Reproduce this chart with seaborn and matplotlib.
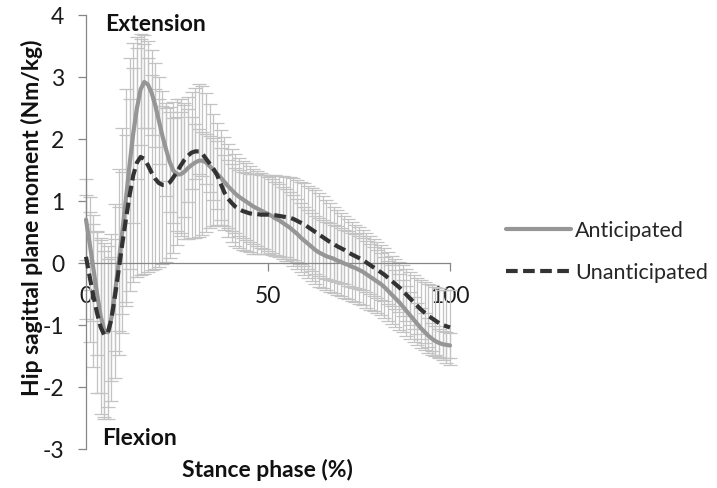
import matplotlib
matplotlib.use("Agg")
import matplotlib.pyplot as plt
import seaborn as sns
import numpy as np
import pandas as pd

# ---------------- data ----------------
stance = list(range(0, 101))

anticipated = [
    0.70, 0.32, -0.08, -0.48, -0.85, -1.08, -1.12, -0.88, -0.45, 0.02,
    0.52, 1.05, 1.60, 2.10, 2.50, 2.80, 2.92, 2.88, 2.75, 2.55,
    2.30, 2.05, 1.83, 1.63, 1.49, 1.43, 1.43, 1.47, 1.53, 1.58,
    1.62, 1.65, 1.65, 1.62, 1.56, 1.50, 1.44, 1.38, 1.31, 1.24,
    1.18, 1.12, 1.07, 1.03, 0.99, 0.95, 0.91, 0.88, 0.85, 0.82,
    0.79, 0.76, 0.72, 0.69, 0.65, 0.61, 0.57, 0.52, 0.47, 0.41,
    0.36, 0.31, 0.26, 0.21, 0.17, 0.14, 0.11, 0.09, 0.07, 0.04,
    0.02, -0.01, -0.03, -0.06, -0.08, -0.11, -0.14, -0.18, -0.22, -0.26,
    -0.30, -0.34, -0.39, -0.45, -0.51, -0.57, -0.63, -0.70, -0.77, -0.84,
    -0.91, -0.98, -1.05, -1.11, -1.17, -1.22, -1.26, -1.29, -1.31, -1.32,
    -1.33,
]

unanticipated = [
    0.10, -0.22, -0.52, -0.80, -1.03, -1.16, -1.13, -0.90, -0.52, -0.10,
    0.32, 0.72, 1.10, 1.42, 1.62, 1.71, 1.68, 1.58, 1.46, 1.36,
    1.29, 1.26, 1.26, 1.30, 1.38, 1.47, 1.57, 1.66, 1.73, 1.78,
    1.80, 1.80, 1.76, 1.68, 1.60, 1.52, 1.42, 1.28, 1.14, 1.04,
    0.97, 0.91, 0.87, 0.84, 0.82, 0.80, 0.79, 0.79, 0.78, 0.78,
    0.78, 0.77, 0.77, 0.76, 0.75, 0.74, 0.73, 0.71, 0.68, 0.65,
    0.62, 0.58, 0.54, 0.50, 0.46, 0.42, 0.38, 0.34, 0.31, 0.27,
    0.24, 0.21, 0.17, 0.14, 0.11, 0.08, 0.05, 0.01, -0.03, -0.07,
    -0.11, -0.15, -0.19, -0.24, -0.29, -0.34, -0.39, -0.45, -0.51, -0.57,
    -0.63, -0.69, -0.75, -0.80, -0.85, -0.89, -0.93, -0.97, -1.00, -1.02,
    -1.04,
]

anticipated_sd = [
    0.65, 0.75, 0.85, 1.00, 1.25, 1.40, 1.40, 1.35, 1.40, 1.50,
    1.65, 1.75, 1.70, 1.45, 1.15, 0.90, 0.75, 0.70, 0.68, 0.68,
    0.70, 0.72, 0.75, 0.80, 0.85, 0.92, 1.00, 1.08, 1.14, 1.18,
    1.21, 1.23, 1.20, 1.12, 1.00, 0.90, 0.82, 0.76, 0.72, 0.68,
    0.66, 0.64, 0.63, 0.62, 0.62, 0.61, 0.61, 0.60, 0.60, 0.60,
    0.60, 0.60, 0.59, 0.59, 0.58, 0.58, 0.57, 0.57, 0.56, 0.56,
    0.55, 0.55, 0.55, 0.55, 0.55, 0.55, 0.55, 0.55, 0.55, 0.55,
    0.55, 0.55, 0.55, 0.55, 0.55, 0.55, 0.54, 0.54, 0.53, 0.52,
    0.51, 0.50, 0.49, 0.48, 0.47, 0.46, 0.45, 0.42, 0.40, 0.38,
    0.36, 0.34, 0.32, 0.30, 0.28, 0.26, 0.24, 0.23, 0.22, 0.21,
    0.20,
]

unanticipated_sd = [
    1.00, 1.05, 1.15, 1.30, 1.40, 1.35, 1.20, 1.00, 0.90, 1.00,
    1.15, 1.35, 1.55, 1.72, 1.85, 1.90, 1.85, 1.72, 1.58, 1.45,
    1.35, 1.28, 1.24, 1.22, 1.22, 1.18, 1.08, 0.92, 0.75, 0.58,
    0.45, 0.36, 0.36, 0.40, 0.45, 0.50, 0.55, 0.58, 0.60, 0.62,
    0.63, 0.63, 0.63, 0.63, 0.63, 0.63, 0.64, 0.64, 0.64, 0.64,
    0.64, 0.64, 0.65, 0.65, 0.65, 0.65, 0.66, 0.66, 0.66, 0.66,
    0.67, 0.67, 0.67, 0.67, 0.67, 0.66, 0.64, 0.62, 0.60, 0.58,
    0.56, 0.55, 0.54, 0.52, 0.51, 0.50, 0.49, 0.48, 0.47, 0.46,
    0.45, 0.44, 0.43, 0.42, 0.41, 0.40, 0.40, 0.41, 0.42, 0.43,
    0.44, 0.45, 0.47, 0.49, 0.51, 0.53, 0.55, 0.56, 0.57, 0.59,
    0.60,
]

series_names = ["Anticipated", "Unanticipated"]
y_ticks = [-3, -2, -1, 0, 1, 2, 3, 4]
x_ticks = [0, 50, 100]

# ---------------- style ----------------
sns.set_theme(style="white")
plt.rcParams["font.family"] = ["Lato", "DejaVu Sans"]
plt.rcParams["axes.unicode_minus"] = False

FS = 16.5
FSB = 16.5
FSL = 15.5
W, H = 717, 488
fig = plt.figure(figsize=(W / 100, H / 100), dpi=100)
ax = fig.add_axes([86 / W, 1 - 449 / H, 364 / W, 434 / H])
ax.set_facecolor("white")

df = pd.DataFrame({
    "stance": stance * 2,
    "moment": anticipated + unanticipated,
    "sd": anticipated_sd + unanticipated_sd,
    "condition": [series_names[0]] * len(stance) + [series_names[1]] * len(stance),
})

# error bars (SD) - light grey
for name in series_names:
    sub = df[df["condition"] == name]
    eb = ax.errorbar(sub["stance"], sub["moment"], yerr=sub["sd"], fmt="none",
                     ecolor="#c3c3c3", elinewidth=0.9, capsize=5.0,
                     capthick=0.9, zorder=1)
    for part in eb.get_children():
        part.set_clip_on(False)

sns.lineplot(data=df, x="stance", y="moment", hue="condition", style="condition",
             palette={"Anticipated": "#969696", "Unanticipated": "#333333"},
             dashes={"Anticipated": "", "Unanticipated": (2.8, 1.3)},
             linewidth=3.0, ax=ax, legend=True, zorder=3, errorbar=None,
             sort=False)
for ln in ax.get_lines():
    ln.set_clip_on(False)

# axes styling
ax.set_xlim(0, 100)
ax.set_ylim(-3, 4)
ax.set_yticks(y_ticks)
ax.set_yticklabels([str(t) for t in y_ticks])
ax.set_xticks(x_ticks)
ax.set_xticklabels([str(t) for t in x_ticks])
for s in ["top", "right"]:
    ax.spines[s].set_visible(False)
ax.spines["bottom"].set_position(("data", 0))
for s in ["left", "bottom"]:
    ax.spines[s].set_color("#868686")
    ax.spines[s].set_linewidth(0.9)
ax.tick_params(axis="y", direction="out", length=5.5, width=0.9, color="#868686",
               pad=10, labelsize=FS, labelcolor="#1a1a1a", left=True)
ax.tick_params(axis="x", direction="out", length=5.5, width=0.9, color="#868686",
               pad=11, labelsize=FS, labelcolor="#1a1a1a", bottom=True)
ax.set_xlabel("")
ax.set_ylabel("")

ax.text(5.2, 3.84, "Extension", fontsize=FSB, fontweight="bold", ha="left",
        va="center", color="#111111")
ax.text(4.4, -2.83, "Flexion", fontsize=FSB, fontweight="bold", ha="left",
        va="center", color="#111111")

fig.text(32 / W, 1 - 218 / H, "Hip sagittal plane moment (Nm/kg)", rotation=90,
         fontsize=FSB, fontweight="bold", ha="center", va="center", color="#111111")
fig.text(267 / W, 1 - 470 / H, "Stance phase (%)", fontsize=FSB, fontweight="bold",
         ha="center", va="center", color="#111111")

# legend to the right
handles, labels = ax.get_legend_handles_labels()
ax.get_legend().remove()
fig.legend(handles, labels, loc="upper left", bbox_to_anchor=(506 / W, 1 - 221 / H),
           frameon=False, fontsize=FSL, handlelength=3.0, handletextpad=0.22,
           labelspacing=1.0, borderpad=0, borderaxespad=0)

fig.savefig("out.png", dpi=100, facecolor="white")
